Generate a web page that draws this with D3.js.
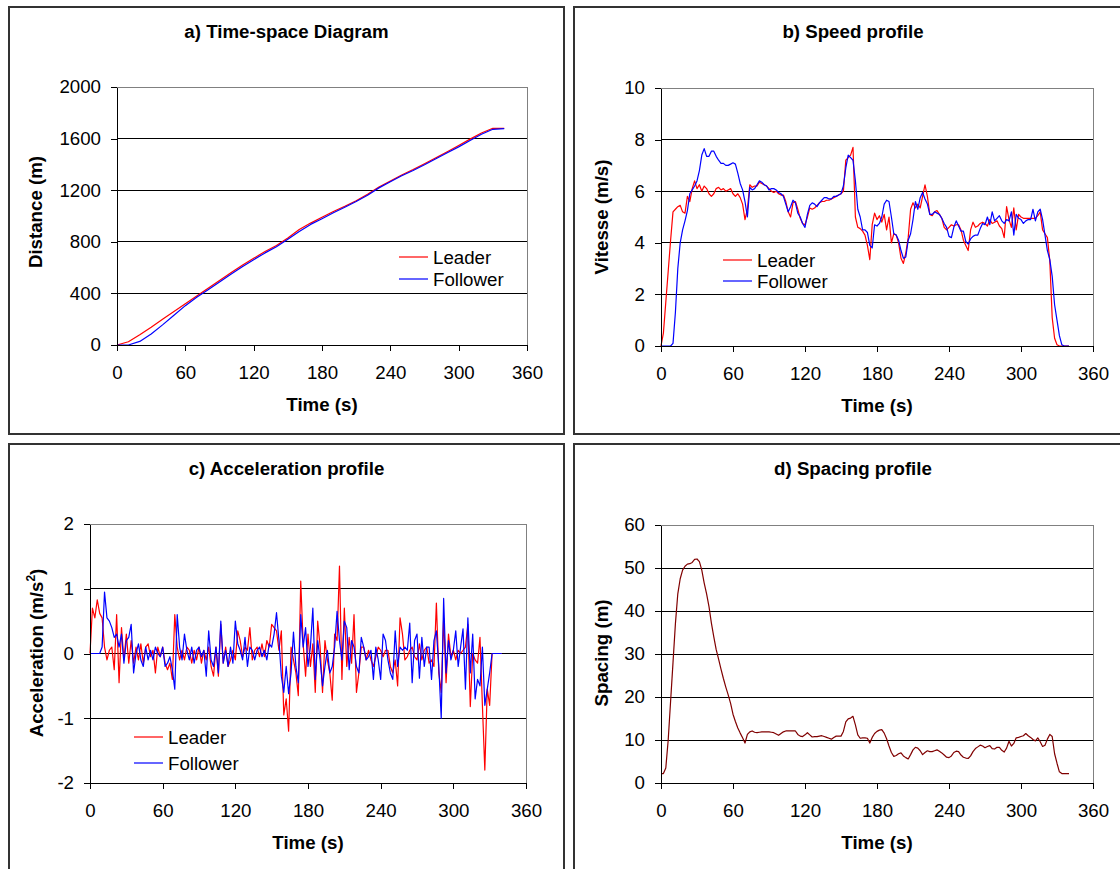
<!DOCTYPE html>
<html lang="en">
<head>
    <meta charset="UTF-8" />
    <title>Leader / follower profiles</title>
    <script src="https://d3js.org/d3.v7.min.js"></script>
    <style>
        body { margin: 0; background: #fff; }
        svg { display: block; font-family: "Liberation Sans", Arial, sans-serif; }
        .frame { fill: none; stroke: #333; stroke-width: 2px; }
        .plotbox { fill: none; stroke: #808080; stroke-width: 1px; }
        .grid { stroke: #000; stroke-width: 1px; }
        .axis path, .axis line { stroke: #000; stroke-width: 1px; }
        .series { fill: none; stroke-width: 1.2px; stroke-linejoin: round; }
        .ttl { font-size: 18.7px; font-weight: bold; }
        .lbl { font-size: 18.7px; }
    </style>
</head>
<body>
    <script>
        // sample times (s), 2 s step, for panels b, c, d
        const timeS = [0,2,4,6,8,10,12,14,16,18,20,22,24,26,28,30,32,34,36,38,40,42,44,46,48,50,52,54,56,58,
            60,62,64,66,68,70,72,74,76,78,80,82,84,86,88,90,92,94,96,98,100,102,104,106,108,110,112,114,116,118,
            120,122,124,126,128,130,132,134,136,138,140,142,144,146,148,150,152,154,156,158,160,162,164,166,168,170,172,174,176,178,
            180,182,184,186,188,190,192,194,196,198,200,202,204,206,208,210,212,214,216,218,220,222,224,226,228,230,232,234,236,238,
            240,242,244,246,248,250,252,254,256,258,260,262,264,266,268,270,272,274,276,278,280,282,284,286,288,290,292,294,296,298,
            300,302,304,306,308,310,312,314,316,318,320,322,324,326,328,330,332,334,336,338,340];

        // a) distance (m), every 10 s
        const distTime = [0,10,20,30,40,50,60,70,80,90,100,110,120,130,140,150,160,170,180,190,200,210,220,230,240,250,260,270,280,290,300,310,320,330,340];
        const leaderDist = [0,25,80,138,200,260,320,380,440,500,560,618,672,725,772,830,895,945,990,1035,1075,1118,1168,1225,1272,1318,1360,1405,1452,1498,1546,1596,1643,1680,1680];
        const followerDist = [0,0,28,86,156,230,305,370,428,488,548,607,661,714,762,819,880,935,979,1025,1068,1112,1161,1218,1266,1312,1353,1397,1444,1490,1536,1586,1634,1672,1678];

        // b) speed (m/s)
        const leaderSpeed = [0,0.5,1.7,2.9,4.1,5.2,5.3,5.4,5.45,5.2,
            5.15,5.8,5.6,6.1,6.4,6.1,6.25,6.0,6.2,6.1,
            5.9,5.8,5.9,6.1,6.15,6.05,6.1,6.0,6.05,6.1,
            5.9,5.8,5.9,5.75,5.5,4.9,5.3,6.25,6.15,6.2,
            6.2,6.35,6.3,6.25,6.2,6.1,6.0,5.95,6.0,5.9,
            5.85,5.85,5.6,5.2,5.0,5.55,5.6,5.3,4.95,4.75,
            4.7,5.0,5.35,5.3,5.35,5.45,5.55,5.6,5.6,5.65,
            5.65,5.7,5.75,5.8,5.85,5.9,6.0,7.2,7.3,7.4,
            7.7,5.0,4.6,4.55,4.45,4.3,3.9,3.35,4.7,5.15,
            4.9,5.05,4.8,5.1,4.5,5.0,4.0,4.35,4.3,4.0,
            3.4,3.2,3.6,4.2,5.3,5.55,5.35,5.5,5.35,5.8,
            6.25,5.8,5.1,5.05,5.2,5.25,5.1,4.95,4.6,4.5,
            4.6,4.7,4.65,4.7,4.7,4.5,4.1,3.9,3.7,4.5,
            4.8,4.6,4.65,4.75,4.8,4.75,4.65,4.9,4.75,4.8,
            4.85,4.65,4.55,4.2,5.4,4.9,4.6,5.35,4.5,5.1,
            5.0,4.95,4.95,4.95,4.95,4.95,4.95,5.05,5.2,4.5,
            4.35,4.2,3.3,1.1,0.3,0.05,0,0,0,0,
            0];
        const followerSpeed = [0,0,0,0,0,0.1,1.3,3.0,4.0,4.5,
            4.85,5.25,5.9,6.05,6.2,6.4,6.8,7.4,7.65,7.35,
            7.35,7.55,7.55,7.35,7.2,7.08,7.08,7.0,7.0,7.05,
            7.1,7.05,6.7,6.3,6.05,5.6,5.0,6.15,6.05,6.1,
            6.25,6.4,6.35,6.25,6.2,6.05,6.1,6.1,6.05,5.95,
            5.9,5.8,5.5,5.2,5.4,5.65,5.55,5.15,5.0,4.75,
            4.6,5.1,5.45,5.55,5.5,5.4,5.55,5.65,5.75,5.75,
            5.7,5.7,5.8,5.8,5.85,5.9,6.2,6.9,7.4,7.3,
            7.2,6.4,5.3,5.0,4.5,4.5,4.4,3.9,3.8,4.7,
            4.65,4.75,5.0,5.5,5.65,5.6,5.0,4.35,4.3,4.1,
            3.7,3.4,3.45,4.1,4.35,4.9,5.6,5.3,5.75,5.95,
            5.7,5.5,5.1,5.1,5.2,5.15,5.1,4.95,4.75,4.6,
            4.25,4.2,4.6,4.85,4.65,4.45,4.45,4.05,3.95,4.15,
            4.25,4.3,4.3,4.55,4.75,4.7,5.0,4.7,5.2,4.85,
            4.95,5.05,4.85,4.75,4.9,4.85,5.2,4.3,5.1,4.95,
            4.9,4.75,4.85,4.9,4.9,5.3,4.85,5.2,5.3,4.9,
            4.3,3.7,3.35,2.7,1.6,1.0,0.4,0.05,0,0,
            0];

        // c) acceleration (m/s2)
        const leaderAccel = [0,0.7,0.55,0.83,0.62,0.55,0.1,-0.1,0.05,0.1,
            -0.25,0.6,-0.45,0.4,-0.1,0.3,-0.15,0.2,-0.15,0.1,
            -0.1,0.15,-0.15,0.1,0.15,-0.05,0.05,-0.3,0.1,-0.05,
            0.1,-0.15,-0.25,-0.15,-0.4,0.6,0.1,-0.1,0.05,-0.1,
            0.1,0.05,-0.15,0.05,-0.1,0.1,-0.15,0.05,-0.1,0.1,
            -0.2,-0.35,0.1,-0.35,0.45,-0.15,0.1,-0.2,-0.1,0.05,
            -0.1,0.35,0.2,-0.05,0.1,0.05,0.4,-0.1,0.05,0.1,
            -0.05,0.15,-0.05,0.2,0.1,0.45,0.4,0.35,0.05,0.35,
            -0.95,-0.7,-1.2,0.1,-0.1,-0.3,-0.65,1.12,0.15,-0.35,
            0.3,-0.2,0.15,-0.6,0.5,0.1,-0.6,0.2,-0.1,-0.3,
            -0.72,0.3,0.2,1.35,-0.4,0.7,-0.2,0.25,-0.15,0.6,
            -0.6,-0.3,0.1,0.1,-0.1,0.05,-0.1,-0.2,-0.05,0.1,
            0.05,-0.05,0.05,0.05,-0.2,-0.3,-0.1,-0.5,0.55,0.3,
            -0.1,-0.05,0.05,0.1,-0.05,-0.1,0.15,-0.1,0.05,0.1,
            -0.15,-0.1,-0.2,0.78,-0.3,-0.6,0.55,-0.45,0.3,-0.05,
            0.05,-0.1,0.05,0,0.05,0.1,0.45,-0.82,0,-0.1,
            -0.15,0.25,-0.8,-1.8,-0.55,-0.8,0,0,0,0,
            0];
        const followerAccel = [0,0,0,0,0,0.1,0.95,0.55,0.5,0.4,
            0.25,0.3,0.1,0.3,-0.15,0.2,0.25,0.45,-0.3,0,
            0.15,-0.1,-0.2,0.1,-0.1,0.05,-0.1,0.1,0,-0.05,
            0.1,-0.2,-0.15,-0.05,-0.25,-0.55,0.6,0.1,-0.1,0.3,
            0.05,-0.1,0.1,-0.15,0.05,0.1,-0.05,0.05,-0.35,0.35,
            -0.1,-0.2,0.1,-0.3,0.5,-0.15,0.05,-0.2,0.1,-0.15,
            0.5,0.15,0.05,-0.1,0.25,-0.2,0.1,0.05,-0.1,0.05,
            0.1,-0.05,0.05,-0.1,0.15,0.1,0.3,0.63,0.2,-0.35,
            -0.6,-0.2,-0.62,-0.3,0.33,-0.2,-0.45,0.6,0.1,0.4,
            -0.2,0.1,0.7,-0.4,0.2,-0.1,-0.5,-0.2,0.05,-0.3,
            -0.2,0.1,0.65,0.2,-0.1,0.5,0.4,-0.25,0.2,0.1,
            -0.2,-0.3,0.25,0.1,-0.1,-0.05,0.05,-0.4,0.1,-0.1,
            -0.4,0.3,0.2,-0.1,-0.3,-0.4,0.35,-0.2,0.1,0.05,
            0.1,0.05,0.47,-0.45,0.2,0.3,-0.38,0.25,-0.2,0.1,
            0.1,-0.4,0.2,0.35,-0.2,-1.0,0.85,-0.3,0.2,-0.1,
            0.05,0.35,-0.2,0.1,0.38,-0.55,0.55,-0.3,0.3,-0.7,
            -0.4,-0.5,0.1,-0.8,-0.55,-0.3,0,0,0,0,
            0];

        // d) spacing (m)
        const spacing = [2.2,2.2,3.5,10,19,28,37,44,47.5,49.5,
            50.4,50.9,51,51.3,52,52.1,51.5,49.5,46.5,44,
            41,37.2,34,31,28.8,26.5,24.3,22.3,20.5,18.5,
            16,14.3,12.8,11.6,10.5,9.3,11.3,11.9,12.1,11.8,
            11.7,11.8,11.9,11.9,11.9,11.9,11.8,11.7,11.4,11.1,
            11.5,11.9,12.1,12.1,12.1,12.1,12.1,11.3,10.9,10.8,
            11.2,11.7,11.2,10.7,10.8,10.8,10.9,11.0,10.8,10.6,
            10.4,10.2,10.6,10.9,10.9,10.9,12.0,14.2,14.9,15.1,
            15.5,13.5,11.2,10.4,10.5,10.5,10.4,9.3,10.6,11.5,
            12.0,12.3,12.4,11.6,10.3,8.6,7.1,6.2,6.4,6.8,
            7.0,6.3,5.9,5.6,6.6,7.7,8.3,8.1,7.5,6.6,
            7.1,7.5,7.3,7.3,7.5,7.7,7.4,7.0,6.5,6.0,
            5.9,6.3,7.1,7.4,7.3,6.5,6.0,5.8,5.7,6.3,
            7.3,8.0,8.4,8.8,8.6,8.2,8.5,8.7,8.0,7.9,
            8.3,8.3,7.6,7.2,8.1,9.7,8.6,9.2,10.5,10.6,
            10.8,11.0,11.5,11.0,10.6,10.1,9.8,10.5,9.6,8.5,
            8.8,10.2,11.3,10.8,6.8,4.6,2.6,2.2,2.2,2.2,
            2.2];

        const timeTicks = [0, 60, 120, 180, 240, 300, 360];
        const seriesNames = ["Leader", "Follower"];
        const seriesColors = ["#ff0000", "#0000ff"];

        const svg = d3.select("body").append("svg")
            .attr("width", 1120)
            .attr("height", 869);

        // plain integer labels with an ASCII minus, like the spreadsheet
        const plain = d => String(d);

        function drawPanel(p) {
            const g = svg.append("g");

            // outer chart border
            g.append("rect").attr("class", "frame")
                .attr("x", p.frame[0]).attr("y", p.frame[1])
                .attr("width", p.frame[2]).attr("height", p.frame[3]);

            const x = d3.scaleLinear().domain([0, 360]).range([p.left, p.right]);
            const y = d3.scaleLinear().domain(d3.extent(p.yTicks)).range([p.bottom, p.top]);

            // horizontal grid (inner ticks only)
            g.selectAll(null)
                .data(p.yTicks.slice(1, -1))
                .enter().append("line")
                .attr("class", "grid")
                .attr("shape-rendering", "crispEdges")
                .attr("x1", p.left).attr("x2", p.right)
                .attr("y1", d => y(d)).attr("y2", d => y(d));

            g.append("rect").attr("class", "plotbox")
                .attr("shape-rendering", "crispEdges")
                .attr("x", p.left).attr("y", p.top)
                .attr("width", p.right - p.left).attr("height", p.bottom - p.top);

            // series
            const line = d3.line().x(d => x(d[0])).y(d => y(d[1]));
            p.series.forEach(s => {
                g.append("path").attr("class", "series")
                    .attr("stroke", s.color)
                    .attr("d", line(p.times.map((t, k) => [t, s.values[k]])));
            });

            // axes
            const xAxis = g.append("g").attr("class", "axis")
                .attr("transform", `translate(0,${p.bottom})`)
                .attr("shape-rendering", "crispEdges")
                .call(d3.axisBottom(x).tickValues(timeTicks).tickFormat(plain)
                    .tickSize(6).tickSizeOuter(0).tickPadding(15));
            const yAxis = g.append("g").attr("class", "axis")
                .attr("transform", `translate(${p.left},0)`)
                .attr("shape-rendering", "crispEdges")
                .call(d3.axisLeft(y).tickValues(p.yTicks).tickFormat(plain)
                    .tickSize(6).tickSizeOuter(0).tickPadding(10));
            [xAxis, yAxis].forEach(a => a
                .attr("font-size", 18.7)
                .attr("font-family", "Liberation Sans, Arial, sans-serif")
                .selectAll("text").attr("fill", "#000"));

            // titles
            g.append("text").attr("class", "ttl")
                .attr("x", p.frame[0] + p.frame[2] / 2).attr("y", p.frame[1] + 31)
                .attr("text-anchor", "middle")
                .text(p.title);
            g.append("text").attr("class", "ttl")
                .attr("x", (p.left + p.right) / 2).attr("y", p.bottom + 66)
                .attr("text-anchor", "middle")
                .text("Time (s)");
            const yt = g.append("text").attr("class", "ttl")
                .attr("transform", `translate(${p.yTitleX},${p.yTitleY}) rotate(-90)`)
                .attr("text-anchor", "middle")
                .attr("dy", "0.35em");
            yt.append("tspan").text(p.yTitle);
            if (p.yTitleSup) {
                yt.append("tspan").attr("font-size", 12).attr("dy", -8).text(p.yTitleSup);
                yt.append("tspan").attr("dy", 8).text(")");
            }

            // legend
            if (p.legend) {
                const lg = g.append("g")
                    .selectAll("g")
                    .data(p.series)
                    .enter().append("g")
                    .attr("transform", (d, i) => `translate(${p.legend[0]},${p.legend[1] + i * p.legend[2]})`);
                lg.append("line")
                    .attr("x1", 0).attr("x2", 29)
                    .attr("stroke", d => d.color).attr("stroke-width", 1.2);
                lg.append("text").attr("class", "lbl")
                    .attr("x", 34).attr("dy", "0.35em")
                    .text(d => d.name);
            }
        }

        drawPanel({
            title: "a) Time-space Diagram", frame: [9, 7, 555, 427],
            left: 117, right: 527, top: 87, bottom: 345,
            yTicks: [0, 400, 800, 1200, 1600, 2000], yTitle: "Distance (m)", yTitleX: 35.5, yTitleY: 212,
            times: distTime,
            series: [
                { name: seriesNames[0], color: seriesColors[0], values: leaderDist },
                { name: seriesNames[1], color: seriesColors[1], values: followerDist }
            ],
            legend: [399, 257, 22]
        });

        drawPanel({
            title: "b) Speed profile", frame: [574, 7, 558, 427],
            left: 661, right: 1093, top: 88, bottom: 346,
            yTicks: [0, 2, 4, 6, 8, 10], yTitle: "Vitesse (m/s)", yTitleX: 601, yTitleY: 217,
            times: timeS,
            series: [
                { name: seriesNames[0], color: seriesColors[0], values: leaderSpeed },
                { name: seriesNames[1], color: seriesColors[1], values: followerSpeed }
            ],
            legend: [723, 260, 21]
        });

        drawPanel({
            title: "c) Acceleration profile", frame: [9, 444, 555, 440],
            left: 90, right: 526, top: 524, bottom: 783,
            yTicks: [-2, -1, 0, 1, 2], yTitle: "Acceleration (m/s", yTitleSup: "2", yTitleX: 36, yTitleY: 653,
            times: timeS,
            series: [
                { name: seriesNames[0], color: seriesColors[0], values: leaderAccel },
                { name: seriesNames[1], color: seriesColors[1], values: followerAccel }
            ],
            legend: [134, 737, 26]
        });

        drawPanel({
            title: "d) Spacing profile", frame: [574, 444, 558, 440],
            left: 661, right: 1093, top: 525, bottom: 783,
            yTicks: [0, 10, 20, 30, 40, 50, 60], yTitle: "Spacing (m)", yTitleX: 601, yTitleY: 653,
            times: timeS,
            series: [
                { name: "Spacing", color: "#800000", values: spacing }
            ]
        });
    </script>
</body>
</html>
